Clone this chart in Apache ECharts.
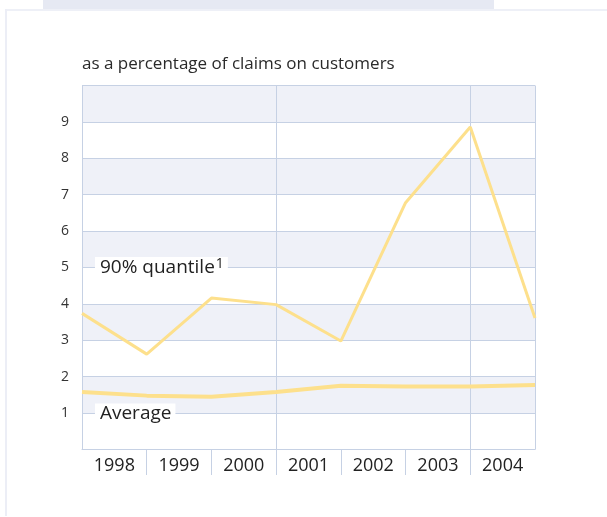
<!DOCTYPE html>
<html>
<head>
<meta charset="utf-8">
<script src="https://cdn.jsdelivr.net/npm/echarts@6/dist/echarts.min.js"></script>
<style>
  html, body { margin: 0; padding: 0; background: #ffffff; }
  #chart { width: 607px; height: 517px; }
</style>
</head>
<body>
<div id="chart"></div>
<script>
// Year labels shown between the period boundaries
const years = ['1998', '1999', '2000', '2001', '2002', '2003', '2004'];
// Values at the eight period boundaries (percent of claims on customers)
const quantile90 = [3.74, 2.62, 4.16, 3.98, 2.98, 6.78, 8.86, 3.61];
const average = [1.58, 1.48, 1.45, 1.58, 1.75, 1.73, 1.73, 1.77];
const yTicks = [1, 2, 3, 4, 5, 6, 7, 8, 9];

const gridColor = '#c6d1e4';
const lineColor = '#fde08c';
const textFont = '"Open Sans", "DejaVu Sans", sans-serif';

const toPoints = arr => arr.map((v, i) => [i, v]);

const chart = echarts.init(document.getElementById('chart'), null, { renderer: 'canvas' });

const seriesLabel = text => ({
  show: true, position: 'right', distance: 0,
  formatter: text,
  color: '#222222', fontSize: 19, fontFamily: textFont,
  backgroundColor: '#ffffff', padding: [0, 4, 0, 5],
  rich: {
    sup: { fontSize: 14, fontFamily: textFont, color: '#222222', verticalAlign: 'top', padding: [0, 0, 7, 1] }
  }
});

const lineMarks = (xs) => ({
  silent: true,
  symbol: ['none', 'none'],
  label: { show: false },
  lineStyle: { color: gridColor, width: 1, type: 'solid' },
  data: xs.map(x => ({ xAxis: x }))
});

chart.setOption({
  animation: false,
  backgroundColor: '#ffffff',
  graphic: [
    { type: 'rect', shape: { x: 43, y: 0, width: 451, height: 9 }, style: { fill: '#e6e9f3' }, silent: true },
    { type: 'rect', shape: { x: 5, y: 9, width: 602, height: 2 }, style: { fill: '#eef0f7' }, silent: true },
    { type: 'rect', shape: { x: 5, y: 9, width: 2, height: 507 }, style: { fill: '#eceef6' }, silent: true },
    {
      type: 'text', left: 82, top: 56,
      style: { text: 'as a percentage of claims on customers', fill: '#2a2a2a', font: '17px ' + textFont }
    }
  ],
  grid: [
    { left: 82, right: 72, top: 85.5, bottom: 67.5, containLabel: false },
    // strip under the plot holding the year separators
    { left: 82, right: 72, top: 450, height: 25, containLabel: false }
  ],
  xAxis: [
    {
      type: 'category',
      gridIndex: 0,
      data: years,
      boundaryGap: true,
      axisLine: { show: true, lineStyle: { color: gridColor, width: 1 } },
      axisTick: { show: false },
      axisLabel: { color: '#222222', fontSize: 18, fontFamily: textFont, margin: 7 },
      splitLine: { show: false }
    },
    { type: 'value', gridIndex: 0, min: 0, max: 7, show: false },
    { type: 'value', gridIndex: 1, min: 0, max: 7, show: false }
  ],
  yAxis: [
    {
      type: 'value',
      gridIndex: 0,
      min: 0,
      max: 10,
      interval: 1,
      axisLine: { show: true, lineStyle: { color: gridColor, width: 1 } },
      axisTick: { show: false },
      axisLabel: {
        color: '#333333', fontSize: 14, fontFamily: textFont, margin: 13,
        formatter: v => (yTicks.indexOf(v) >= 0 ? String(v) : '')
      },
      splitLine: { show: true, lineStyle: { color: gridColor, width: 1 } },
      splitArea: { show: true, areaStyle: { color: ['#ffffff', '#eff1f8'] } }
    },
    { type: 'value', gridIndex: 1, min: 0, max: 1, show: false }
  ],
  series: [
    {
      name: 'boundaries',
      type: 'line',
      xAxisIndex: 1,
      yAxisIndex: 0,
      data: [],
      silent: true,
      markLine: lineMarks([3, 6, 7])
    },
    {
      name: 'year separators',
      type: 'line',
      xAxisIndex: 2,
      yAxisIndex: 1,
      data: [],
      silent: true,
      markLine: lineMarks([1, 2, 3, 4, 5, 6])
    },
    {
      name: '90% quantile',
      type: 'line',
      xAxisIndex: 1,
      yAxisIndex: 0,
      data: toPoints(quantile90),
      symbol: 'none',
      lineStyle: { color: lineColor, width: 3 },
      z: 5,
      markPoint: {
        symbol: 'rect', symbolSize: 0,
        label: seriesLabel('90% quantile{sup|1}'),
        data: [{ coord: [0.2, 5] }]
      }
    },
    {
      name: 'Average',
      type: 'line',
      xAxisIndex: 1,
      yAxisIndex: 0,
      data: toPoints(average),
      symbol: 'none',
      lineStyle: { color: lineColor, width: 4 },
      z: 5,
      markPoint: {
        symbol: 'rect', symbolSize: 0,
        label: seriesLabel('Average'),
        data: [{ coord: [0.2, 1] }]
      }
    }
  ]
});
</script>
</body>
</html>
